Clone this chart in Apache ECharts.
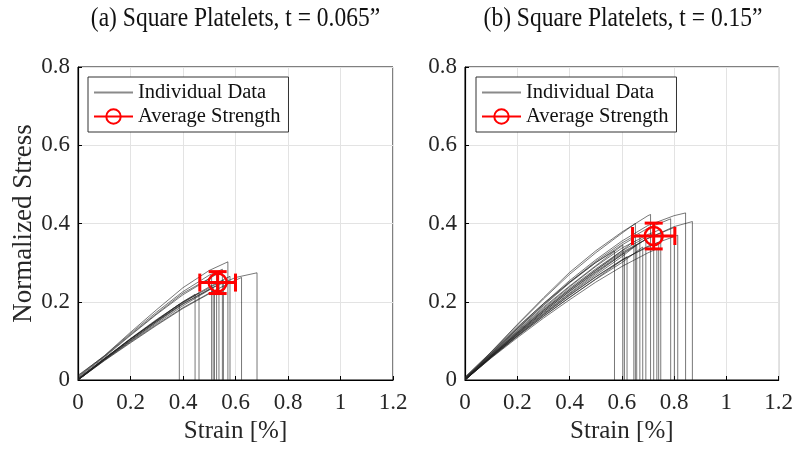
<!DOCTYPE html>
<html>
<head>
<meta charset="utf-8">
<script src="https://cdn.jsdelivr.net/npm/echarts@6/dist/echarts.min.js"></script>
<style>
  html, body { margin: 0; padding: 0; background: #fff; }
  #chart { width: 796px; height: 449px; }
</style>
</head>
<body>
<div id="chart"></div>
<script>
// Panel titles and axis text
const panelTitles = ['(a) Square Platelets, t = 0.065\u201d', '(b) Square Platelets, t = 0.15\u201d'];
const xTicks = [0, 0.2, 0.4, 0.6, 0.8, 1, 1.2];
const yTicks = [0, 0.2, 0.4, 0.6, 0.8];
const legendNames = ['Individual Data', 'Average Strength'];

// Stress-strain curves, t = 0.065" specimens: [strain %, normalized stress]
const curvesThin = [
  [[0,0.004],[0.1,0.054],[0.2,0.105],[0.3,0.153],[0.386,0.194],[0.386,0]],
  [[0,0.002],[0.1,0.055],[0.2,0.106],[0.3,0.155],[0.4,0.200],[0.446,0.219],[0.446,0]],
  [[0,0],[0.1,0.052],[0.2,0.101],[0.3,0.149],[0.4,0.197],[0.461,0.223],[0.461,0]],
  [[0,0.006],[0.1,0.058],[0.2,0.114],[0.3,0.168],[0.4,0.218],[0.509,0.262],[0.509,0]],
  [[0,0],[0.1,0.051],[0.2,0.099],[0.3,0.145],[0.4,0.190],[0.515,0.236],[0.515,0]],
  [[0,0.008],[0.1,0.060],[0.2,0.116],[0.3,0.170],[0.4,0.222],[0.528,0.270],[0.528,0]],
  [[0,0],[0.1,0.052],[0.2,0.101],[0.3,0.148],[0.4,0.194],[0.537,0.245],[0.537,0]],
  [[0,0.003],[0.1,0.054],[0.2,0.104],[0.3,0.152],[0.4,0.199],[0.554,0.255],[0.554,0]],
  [[0,0.010],[0.1,0.062],[0.2,0.122],[0.3,0.180],[0.4,0.236],[0.5,0.280],[0.571,0.302],[0.571,0]],
  [[0,0],[0.1,0.054],[0.2,0.105],[0.3,0.153],[0.4,0.200],[0.5,0.238],[0.579,0.265],[0.579,0]],
  [[0,0],[0.1,0.050],[0.2,0.097],[0.3,0.142],[0.4,0.185],[0.5,0.222],[0.6,0.255],[0.623,0.262],[0.623,0]],
  [[0,0.002],[0.1,0.053],[0.2,0.104],[0.3,0.151],[0.4,0.195],[0.5,0.232],[0.6,0.262],[0.682,0.274],[0.682,0]],
  [[0,0],[0.1,0.049],[0.2,0.095],[0.3,0.140],[0.4,0.183],[0.520,0.228],[0.520,0]],
  [[0,0.012],[0.1,0.061],[0.2,0.119],[0.3,0.174],[0.4,0.226],[0.5,0.268],[0.550,0.283],[0.550,0]]
];

// Stress-strain curves, t = 0.15" specimens
const curvesThick = [
  [[0,0],[0.1,0.070],[0.2,0.135],[0.3,0.195],[0.4,0.250],[0.5,0.300],[0.572,0.330],[0.572,0]],
  [[0,0.003],[0.1,0.065],[0.2,0.127],[0.3,0.186],[0.4,0.240],[0.5,0.292],[0.604,0.345],[0.604,0]],
  [[0,0],[0.1,0.060],[0.2,0.117],[0.3,0.171],[0.4,0.222],[0.5,0.272],[0.610,0.325],[0.610,0]],
  [[0,0.002],[0.1,0.062],[0.2,0.121],[0.3,0.177],[0.4,0.230],[0.5,0.280],[0.6,0.330],[0.646,0.355],[0.646,0]],
  [[0,0],[0.1,0.060],[0.2,0.116],[0.3,0.169],[0.4,0.220],[0.5,0.268],[0.6,0.315],[0.657,0.345],[0.657,0]],
  [[0,0.004],[0.1,0.066],[0.2,0.130],[0.3,0.190],[0.4,0.248],[0.5,0.300],[0.6,0.345],[0.669,0.372],[0.669,0]],
  [[0,0],[0.1,0.058],[0.2,0.112],[0.3,0.163],[0.4,0.211],[0.5,0.257],[0.6,0.300],[0.680,0.340],[0.680,0]],
  [[0,0.002],[0.1,0.061],[0.2,0.119],[0.3,0.174],[0.4,0.226],[0.5,0.275],[0.6,0.320],[0.692,0.360],[0.692,0]],
  [[0,0.006],[0.1,0.072],[0.2,0.142],[0.3,0.210],[0.4,0.275],[0.5,0.330],[0.6,0.378],[0.7,0.420],[0.710,0.423],[0.710,0]],
  [[0,0],[0.1,0.063],[0.2,0.123],[0.3,0.180],[0.4,0.234],[0.5,0.284],[0.6,0.330],[0.7,0.368],[0.722,0.375],[0.722,0]],
  [[0,0],[0.1,0.056],[0.2,0.108],[0.3,0.158],[0.4,0.205],[0.5,0.250],[0.6,0.290],[0.7,0.325],[0.734,0.335],[0.734,0]],
  [[0,0.002],[0.1,0.059],[0.2,0.114],[0.3,0.167],[0.4,0.217],[0.5,0.264],[0.6,0.307],[0.7,0.340],[0.741,0.352],[0.741,0]],
  [[0,0.004],[0.1,0.064],[0.2,0.125],[0.3,0.183],[0.4,0.238],[0.5,0.290],[0.6,0.337],[0.7,0.372],[0.749,0.385],[0.749,0]],
  [[0,0.005],[0.1,0.067],[0.2,0.131],[0.3,0.192],[0.4,0.250],[0.5,0.303],[0.6,0.350],[0.7,0.388],[0.787,0.412],[0.787,0]],
  [[0,0],[0.1,0.062],[0.2,0.121],[0.3,0.178],[0.4,0.231],[0.5,0.281],[0.6,0.326],[0.7,0.362],[0.801,0.390],[0.801,0]],
  [[0,0],[0.1,0.058],[0.2,0.113],[0.3,0.166],[0.4,0.216],[0.5,0.263],[0.6,0.306],[0.7,0.342],[0.814,0.370],[0.814,0]],
  [[0,0.006],[0.1,0.068],[0.2,0.133],[0.3,0.195],[0.4,0.254],[0.5,0.307],[0.6,0.355],[0.7,0.395],[0.8,0.420],[0.844,0.427],[0.844,0]],
  [[0,0],[0.1,0.060],[0.2,0.118],[0.3,0.174],[0.4,0.227],[0.5,0.277],[0.6,0.323],[0.7,0.362],[0.8,0.392],[0.870,0.405],[0.870,0]],
  [[0,0.008],[0.1,0.071],[0.2,0.140],[0.3,0.207],[0.4,0.270],[0.5,0.325],[0.6,0.375],[0.652,0.400],[0.652,0]],
  [[0,0],[0.1,0.057],[0.2,0.111],[0.3,0.162],[0.4,0.211],[0.5,0.258],[0.620,0.315],[0.620,0]]
];

// Average failure point [strain, stress] and its spread [strain, stress]
const avgThin = [0.532, 0.249];
const errThin = [0.068, 0.028];
const avgThick = [0.722, 0.368];
const errThick = [0.081, 0.033];

const serif = 'Liberation Serif, Times New Roman, serif';
const RED = '#ff0000';
const CURVE = 'rgba(30,30,30,0.6)';

function curveSeries(curves, idx) {
  return curves.map(function (pts) {
    return {
      name: legendNames[0],
      type: 'line',
      xAxisIndex: idx,
      yAxisIndex: idx,
      data: pts,
      symbol: 'none',
      showSymbol: false,
      silent: true,
      lineStyle: { color: CURVE, width: 1 },
      itemStyle: { color: CURVE },
      z: 2
    };
  });
}

function averageSeries(avg, idx) {
  return {
    name: legendNames[1],
    type: 'line',
    xAxisIndex: idx,
    yAxisIndex: idx,
    data: [avg],
    symbol: 'circle',
    symbolSize: 18,
    itemStyle: { color: 'rgba(255,0,0,0)', borderColor: RED, borderWidth: 2.5 },
    lineStyle: { color: RED, width: 2.5 },
    z: 10
  };
}

function errorSeries(avg, err, idx) {
  return {
    name: 'spread' + idx,
    type: 'custom',
    xAxisIndex: idx,
    yAxisIndex: idx,
    data: [[avg[0], avg[1], err[0], err[1]]],
    encode: { x: 0, y: 1 },
    z: 11,
    renderItem: function (params, api) {
      const x = api.value(0), y = api.value(1), ex = api.value(2), ey = api.value(3);
      const l = api.coord([x - ex, y]);
      const r = api.coord([x + ex, y]);
      const t = api.coord([x, y + ey]);
      const b = api.coord([x, y - ey]);
      const cap = 9;
      const st = { stroke: RED, lineWidth: 3 };
      const seg = function (x1, y1, x2, y2) {
        return { type: 'line', shape: { x1: x1, y1: y1, x2: x2, y2: y2 }, style: st };
      };
      return {
        type: 'group',
        children: [
          seg(l[0], l[1], r[0], r[1]),
          seg(t[0], t[1], b[0], b[1]),
          seg(l[0], l[1] - cap, l[0], l[1] + cap),
          seg(r[0], r[1] - cap, r[0], r[1] + cap),
          seg(t[0] - cap, t[1], t[0] + cap, t[1]),
          seg(b[0] - cap, b[1], b[0] + cap, b[1])
        ]
      };
    }
  };
}

function xAxisFor(idx) {
  return {
    type: 'value',
    gridIndex: idx,
    min: xTicks[0],
    max: xTicks[xTicks.length - 1],
    interval: 0.2,
    name: 'Strain [%]',
    nameLocation: 'middle',
    nameGap: 39,
    nameTextStyle: { fontFamily: serif, fontSize: 25, color: '#262626' },
    axisLine: { show: true, lineStyle: { color: '#000', width: 1.2 } },
    axisTick: { show: true, inside: true, length: 4, lineStyle: { color: '#000' } },
    axisLabel: { fontFamily: serif, fontSize: 23, color: '#262626', margin: 11 },
    splitLine: { show: true, lineStyle: { color: '#e3e3e3', width: 1 } }
  };
}

function yAxisFor(idx) {
  return {
    type: 'value',
    gridIndex: idx,
    min: yTicks[0],
    max: yTicks[yTicks.length - 1],
    interval: 0.2,
    name: idx === 0 ? 'Normalized Stress' : '',
    nameLocation: 'middle',
    nameGap: 38,
    nameTextStyle: { fontFamily: serif, fontSize: 27, color: '#262626' },
    axisLine: { show: true, lineStyle: { color: '#000', width: 1.2 } },
    axisTick: { show: true, inside: true, length: 4, lineStyle: { color: '#000' } },
    axisLabel: { fontFamily: serif, fontSize: 23, color: '#262626', margin: 8 },
    splitLine: { show: true, lineStyle: { color: '#e3e3e3', width: 1 } }
  };
}

function legendFor(left) {
  return {
    data: [
      { name: legendNames[0], itemStyle: { opacity: 0 }, lineStyle: { color: '#8a8a8a' } },
      { name: legendNames[1] }
    ],
    orient: 'vertical',
    left: left,
    top: 77,
    itemWidth: 39,
    itemHeight: 18,
    itemGap: 3,
    padding: [5, 8, 5, 5],
    backgroundColor: '#fff',
    borderColor: '#333',
    borderWidth: 1,
    borderRadius: 0,
    selectedMode: false,
    textStyle: { fontFamily: serif, fontSize: 20.5, color: '#111' }
  };
}

function titleText(x, text) {
  return {
    type: 'text', x: x, y: 19, scaleY: 1.2,
    style: {
      text: text, font: '23.5px ' + serif, fill: '#111',
      align: 'center', verticalAlign: 'middle', textAlign: 'center', textVerticalAlign: 'middle'
    }
  };
}

const chart = echarts.init(document.getElementById('chart'), null, { renderer: 'canvas' });

chart.setOption({
  animation: false,
  backgroundColor: '#fff',
  grid: [
    { left: 78, top: 67, width: 315, height: 314, show: true, borderColor: '#000', borderWidth: 1, backgroundColor: '#fff' },
    { left: 465, top: 67, width: 316, height: 314, show: true, borderColor: '#000', borderWidth: 1, backgroundColor: '#fff' }
  ],
  xAxis: [xAxisFor(0), xAxisFor(1)],
  yAxis: [yAxisFor(0), yAxisFor(1)],
  legend: [legendFor(88), legendFor(476)],
  graphic: [titleText(235.5, panelTitles[0]), titleText(623, panelTitles[1])],
  series: [].concat(
    curveSeries(curvesThin, 0),
    curveSeries(curvesThick, 1),
    [averageSeries(avgThin, 0), averageSeries(avgThick, 1),
     errorSeries(avgThin, errThin, 0), errorSeries(avgThick, errThick, 1)]
  )
});
</script>
</body>
</html>
